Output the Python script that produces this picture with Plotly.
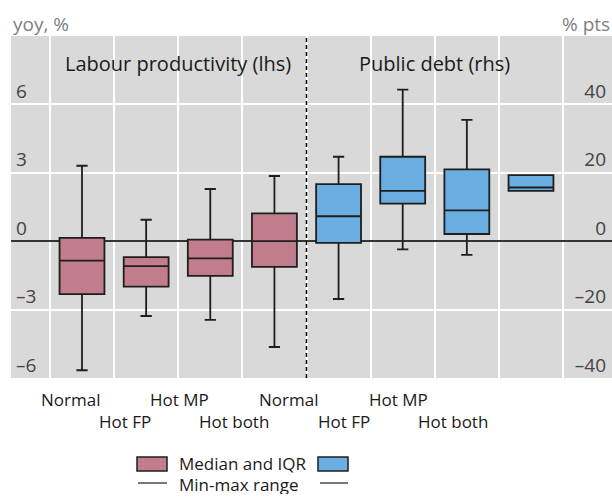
import plotly.graph_objects as go

# Scenario categories (same for both panels)
categories = ["Normal", "Hot FP", "Hot MP", "Hot both"]

# Labour productivity, yoy % (left axis)
lp_min = [-5.66, -3.28, -3.45, -4.64]
lp_q1 = [-2.32, -1.99, -1.52, -1.13]
lp_median = [-0.85, -1.09, -0.75, 0.0]
lp_q3 = [0.15, -0.70, 0.07, 1.22]
lp_max = [3.31, 0.94, 2.29, 2.86]

# Public debt, % pts (right axis)
pd_min = [-16.9, -2.4, -4.0, 14.7]
pd_q1 = [-0.5, 11.0, 2.1, 14.7]
pd_median = [7.3, 14.7, 9.0, 15.7]
pd_q3 = [16.7, 24.7, 21.0, 19.3]
pd_max = [24.7, 44.3, 35.5, 19.3]

lhs_ticks = [-6, -3, 0, 3, 6]
rhs_ticks = [-40, -20, 0, 20, 40]

PINK = "#c27d8d"
BLUE = "#6aade0"
EDGE = "#1e1e1e"
BG = "#d9d9d9"
FONT = "Open Sans"

W, H = 612, 498
ML, MR, MT, MB = 11, 0, 36, 120
PW, PH = W - ML - MR, H - MT - MB


def px(xp):
    return (xp - ML) / PW


def py(yp):
    return (MT + PH - yp) / PH


def dash_minus(v):
    return str(v).replace("-", "\u2013")


n = len(categories)
lp_pos = list(range(n))
pd_pos = [n + i for i in range(n)]

fig = go.Figure()

fig.add_trace(go.Box(
    x=lp_pos, q1=lp_q1, median=lp_median, q3=lp_q3,
    lowerfence=lp_min, upperfence=lp_max,
    fillcolor=PINK, line=dict(color=EDGE, width=1.8),
    width=0.7, whiskerwidth=0.25, boxpoints=False,
    xaxis="x", yaxis="y", showlegend=False,
))
fig.add_trace(go.Box(
    x=pd_pos, q1=pd_q1, median=pd_median, q3=pd_q3,
    lowerfence=pd_min, upperfence=pd_max,
    fillcolor=BLUE, line=dict(color=EDGE, width=1.8),
    width=0.7, whiskerwidth=0.25, boxpoints=False,
    xaxis="x", yaxis="y2", showlegend=False,
))

fig.update_layout(
    width=W, height=H,
    margin=dict(l=ML, r=MR, t=MT, b=MB),
    paper_bgcolor="white", plot_bgcolor=BG,
    font=dict(family=FONT, size=17, color="#1a1a1a"),
    xaxis=dict(
        range=[-1.107, 8.263], tickvals=[i - 0.5 for i in range(2 * n + 1)],
        showticklabels=False, ticks="", showgrid=True,
        gridcolor="white", gridwidth=2, zeroline=False, showline=False,
        fixedrange=True,
    ),
    xaxis2=dict(
        range=[-1.079, 9.907], overlaying="x", visible=False, fixedrange=True,
    ),
    yaxis=dict(
        range=[-6, 9], tickvals=lhs_ticks,
        ticktext=[dash_minus(v) for v in lhs_ticks],
        tickfont=dict(size=19),
        ticklabelposition="inside", ticklabelshift=-13, ticklabelstandoff=2,
        ticks="", showgrid=True, gridcolor="white", gridwidth=2,
        zeroline=True, zerolinecolor="#333333", zerolinewidth=1.5,
        showline=False,
    ),
    yaxis2=dict(
        range=[-40, 60], overlaying="y", side="right", tickvals=rhs_ticks,
        ticktext=[dash_minus(v) for v in rhs_ticks],
        tickfont=dict(size=19),
        ticklabelposition="inside", ticklabelshift=-13, ticklabelstandoff=3,
        ticks="", showgrid=False, zeroline=False, showline=False,
    ),
)

# Divider between the two panels
fig.add_shape(type="line", xref="x", yref="paper", x0=n - 0.5, x1=n - 0.5,
              y0=0, y1=1, line=dict(color="black", width=1.5, dash="4px,3px"),
              layer="above")

# Panel headings
for xc, txt in [((n - 1) / 2, "Labour productivity (lhs)"),
                (n + (n - 1) / 2, "Public debt (rhs)")]:
    fig.add_annotation(x=xc, xref="x", y=1, yref="paper", yshift=-27,
                       yanchor="middle", text=txt, showarrow=False,
                       font=dict(size=20))

# Staggered category labels
all_labels = categories + categories
for i, lab in enumerate(all_labels):
    fig.add_annotation(x=i, xref="x2", y=0, yref="paper",
                       yshift=-21 if i % 2 == 0 else -43,
                       yanchor="middle", xanchor="center",
                       text=lab, showarrow=False)

# Axis unit labels
fig.add_annotation(x=0, xref="paper", y=1, yref="paper", xanchor="left",
                   xshift=0, yanchor="middle", yshift=12, text="yoy, %",
                   font=dict(color="#7f7f7f", size=19), showarrow=False)
fig.add_annotation(x=1, xref="paper", y=1, yref="paper", xanchor="right",
                   yanchor="middle", yshift=12, text="% pts",
                   font=dict(color="#7f7f7f", size=19), showarrow=False)

# Legend drawn by hand: swatches either side of the labels
for x0, x1, col in [(137, 167, PINK), (318, 348, BLUE)]:
    fig.add_shape(type="rect", xref="paper", yref="paper",
                  x0=px(x0), x1=px(x1), y0=py(471), y1=py(457),
                  fillcolor=col, line=dict(color=EDGE, width=1.5))
for x0, x1 in [(138, 167), (320, 348)]:
    fig.add_shape(type="line", xref="paper", yref="paper",
                  x0=px(x0), x1=px(x1), y0=py(483), y1=py(483),
                  line=dict(color=EDGE, width=1.2))
fig.add_annotation(x=px(177), xref="paper", y=py(463.5), yref="paper",
                   xanchor="left", yanchor="middle", text="Median and IQR",
                   showarrow=False, height=19, valign="middle")
fig.add_annotation(x=px(177), xref="paper", y=py(484), yref="paper",
                   xanchor="left", yanchor="middle", text="Min-max range",
                   showarrow=False, height=19, valign="middle")

fig.write_html("out.html")
